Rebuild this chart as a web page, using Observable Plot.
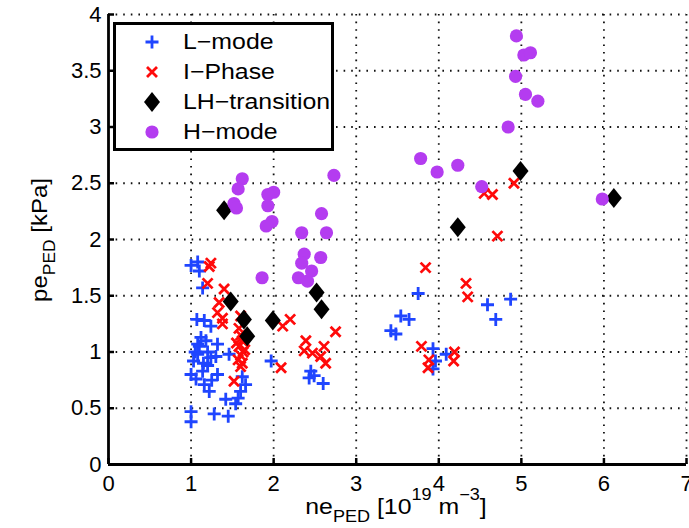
<!DOCTYPE html>
<html><head><meta charset="utf-8">
<script src="https://cdn.jsdelivr.net/npm/d3@7"></script>
<script src="https://cdn.jsdelivr.net/npm/@observablehq/plot@0.6"></script>
<style>
body{margin:0;background:#fff;font-family:"Liberation Sans",Arial,sans-serif;}
#wrap{position:relative;width:689px;height:528px;}
#legend{position:absolute;left:113px;top:22px;width:215px;height:123px;border:3px solid #000;background:#fff;}
.row{position:absolute;left:0;height:30px;width:215px;}
.row svg{position:absolute;left:24px;top:3px;}
.row span{position:absolute;left:67px;top:0;font-size:22px;line-height:30px;color:#000;white-space:nowrap;transform:scaleX(1.13);transform-origin:0 50%;}
</style>
</head><body>
<div id="wrap"></div>
<script>
// ---- data ----
const seriesNames = ["L\u2212mode", "I\u2212Phase", "LH\u2212transition", "H\u2212mode"];
const xTicks = [0, 1, 2, 3, 4, 5, 6, 7];
const yTicks = [0, 0.5, 1, 1.5, 2, 2.5, 3, 3.5, 4];

const lmodeNe = [1.0,1.08,1.1,1.14,1.16,1.07,1.24,1.12,1.32,1.08,1.03,1.24,1.14,1.32,1.06,1.16,1.22,1.66,1.60,1.57,1.42,1.54,1.0,1.0,1.28,1.45,1.97,1.2,1.05,1.62,1.46,1.10,1.20,1.08,1.25,1.15,1.00,1.18,1.30,2.45,2.49,2.43,2.60,3.75,3.54,3.64,3.42,3.48,3.93,4.09,3.96,3.93,4.87,4.59,4.69];
const lmodePe = [1.77,1.80,1.72,1.57,1.28,1.29,1.23,1.13,1.07,1.07,0.92,0.95,0.83,0.80,0.76,0.71,0.65,0.71,0.65,0.59,0.58,0.54,0.47,0.38,0.45,0.43,0.92,1.0,1.0,0.78,0.98,1.05,0.88,0.98,0.75,0.90,0.80,1.10,0.96,0.83,0.79,0.77,0.72,1.52,1.32,1.29,1.19,1.16,1.03,0.98,0.92,0.85,1.47,1.42,1.29];

const iphaseNe = [1.24,1.22,1.20,1.40,1.34,1.32,1.38,1.38,1.58,1.60,1.6,1.62,1.58,1.63,1.6,1.57,1.62,1.6,1.55,1.65,1.52,2.20,2.11,2.75,2.39,2.37,2.47,2.61,2.57,2.63,2.09,4.33,4.35,3.79,3.88,3.87,4.19,4.18,3.84,4.71,4.55,4.65,4.91];
const iphasePe = [1.79,1.76,1.61,1.56,1.44,1.35,1.30,1.25,1.21,1.32,1.15,1.10,1.05,1.00,0.97,0.93,0.90,0.87,1.08,1.02,0.74,1.29,1.23,1.18,1.10,1.01,0.99,1.05,0.96,0.90,0.86,1.61,1.49,1.05,0.93,0.86,1.00,0.92,1.75,2.03,2.41,2.40,2.50];

const lhNe = [1.40,4.99,6.12,4.23,1.48,2.52,2.58,1.64,1.68,1.99];
const lhPe = [2.26,2.61,2.37,2.11,1.45,1.53,1.38,1.29,1.14,1.28];

const hmodeNe = [4.94,5.03,5.11,4.93,5.05,5.20,4.84,3.78,3.98,4.23,4.52,5.98,2.73,1.62,1.57,1.52,1.55,2.00,1.93,1.93,1.98,1.91,2.58,2.64,2.34,2.37,2.57,2.34,2.46,2.30,1.86,2.41];
const hmodePe = [3.81,3.64,3.66,3.45,3.29,3.23,3.00,2.72,2.60,2.66,2.47,2.36,2.57,2.54,2.45,2.32,2.28,2.42,2.40,2.30,2.16,2.12,2.23,2.06,2.06,1.87,1.84,1.79,1.72,1.66,1.66,1.63];

const colors = ["#1f45ff", "#ff0a0a", "#000000", "#b43cf0"];

// ---- build tables ----
const zip = (xs, ys) => xs.map((x, i) => ({ne: x, pe: ys[i]}));
const lmode = zip(lmodeNe, lmodePe);
const iphase = zip(iphaseNe, iphasePe);
const lh = zip(lhNe, lhPe);
const hmode = zip(hmodeNe, hmodePe);

// custom symbols
const plusSym = {draw(ctx, size){ const r = Math.sqrt(size/Math.PI); ctx.moveTo(-r,0); ctx.lineTo(r,0); ctx.moveTo(0,-r); ctx.lineTo(0,r);} };
const timesSym = {draw(ctx, size){ const r = Math.sqrt(size/Math.PI); ctx.moveTo(-r,-r); ctx.lineTo(r,r); ctx.moveTo(-r,r); ctx.lineTo(r,-r);} };
const diamondSym = {draw(ctx, size){ const r = Math.sqrt(size/Math.PI); const hw = r*0.8, hh = r; ctx.moveTo(0,-hh); ctx.lineTo(hw,0); ctx.lineTo(0,hh); ctx.lineTo(-hw,0); ctx.closePath();} };

const chart = Plot.plot({
  width: 689, height: 528,
  marginLeft: 108, marginRight: 3, marginTop: 14, marginBottom: 64,
  style: {fontFamily: "'Liberation Sans', Arial, sans-serif", fontSize: "22px", color: "#000", background: "#fff"},
  x: {domain: [0, 7], ticks: xTicks, label: null},
  y: {domain: [0, 4], ticks: yTicks, label: null},
  marks: [
    Plot.gridX(xTicks.filter(d => d > 0), {stroke: "#111", strokeOpacity: 1, strokeWidth: 1.8, strokeDasharray: "1.6,6"}),
    Plot.gridY(yTicks.filter(d => d > 0), {stroke: "#111", strokeOpacity: 1, strokeWidth: 1.8, strokeDasharray: "1.6,6"}),
    Plot.axisX(xTicks, {tickSize: 0, tickPadding: 11, tickFormat: d => String(d), fontSize: 22}),
    Plot.axisY(yTicks, {tickSize: 0, tickPadding: 7, tickFormat: d => String(d), fontSize: 22}),
    Plot.axisX(xTicks, {tickSize: -6, text: null, strokeWidth: 2.5}),
    Plot.axisY(yTicks, {tickSize: -6, text: null, strokeWidth: 2.5}),
    Plot.dot(lmode, {x: "ne", y: "pe", symbol: plusSym, r: 6.5, stroke: colors[0], strokeWidth: 2.8, fill: "none"}),
    Plot.dot(iphase, {x: "ne", y: "pe", symbol: timesSym, r: 5, stroke: colors[1], strokeWidth: 2.8, fill: "none"}),
    Plot.dot(lh, {x: "ne", y: "pe", symbol: diamondSym, r: 10, fill: colors[2], stroke: "none"}),
    Plot.dot(hmode, {x: "ne", y: "pe", r: 6.6, fill: colors[3], stroke: "none"}),
    Plot.ruleX([0], {stroke: "#000", strokeWidth: 2.8}),
    Plot.ruleY([0], {stroke: "#000", strokeWidth: 2.8})
  ]
});

const svg = d3.select(chart);
// x axis label
const xl = svg.append("text").attr("transform", "translate(396,514) scale(1.13,1)").attr("text-anchor", "middle")
  .attr("font-size", 22).attr("fill", "#000");
xl.append("tspan").text("ne");
xl.append("tspan").attr("font-size", 16).attr("dy", 8).text("PED");
xl.append("tspan").attr("dy", -8).text(" [10");
xl.append("tspan").attr("font-size", 16).attr("dy", -14).text("19");
xl.append("tspan").attr("dy", 14).text(" m");
xl.append("tspan").attr("font-size", 16).attr("dy", -14).text("\u22123");
xl.append("tspan").attr("dy", 14).text("]");
// y axis label
const yl = svg.append("text").attr("transform", "translate(47,240) rotate(-90) scale(1.09,1)").attr("text-anchor", "middle")
  .attr("font-size", 22).attr("fill", "#000");
yl.append("tspan").text("pe");
yl.append("tspan").attr("font-size", 16).attr("dy", 8).text("PED");
yl.append("tspan").attr("dy", -8).text(" [kPa]");

const wrap = document.getElementById("wrap");
wrap.appendChild(chart);

// legend
const legend = document.createElement("div");
legend.id = "legend";
const symSvg = [
  `<svg width="24" height="24"><path d="M5.5,12H18.5M12,5.5V18.5" stroke="${colors[0]}" stroke-width="2.8" fill="none"/></svg>`,
  `<svg width="24" height="24"><path d="M7,7L17,17M7,17L17,7" stroke="${colors[1]}" stroke-width="2.8" fill="none"/></svg>`,
  `<svg width="24" height="24"><path d="M12,2L20,12L12,22L4,12Z" fill="${colors[2]}"/></svg>`,
  `<svg width="24" height="24"><circle cx="12" cy="12" r="6.6" fill="${colors[3]}"/></svg>`
];
seriesNames.forEach((name, i) => {
  const row = document.createElement("div");
  row.className = "row";
  row.style.top = (2 + i * 30) + "px";
  row.innerHTML = symSvg[i] + `<span>${name}</span>`;
  legend.appendChild(row);
});
wrap.appendChild(legend);
</script>
</body></html>
